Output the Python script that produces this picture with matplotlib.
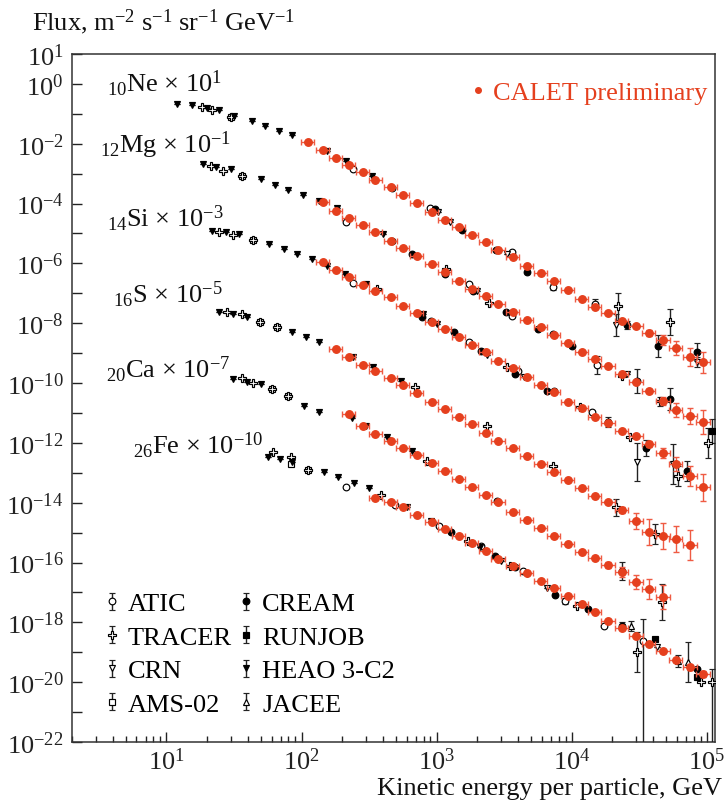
import numpy as np
import matplotlib
matplotlib.use('Agg')
import matplotlib.pyplot as plt
from matplotlib.container import ErrorbarContainer
from matplotlib.legend_handler import HandlerErrorbar
from matplotlib.lines import Line2D
from matplotlib.ticker import FixedLocator, FuncFormatter, LogLocator, NullFormatter

plt.rcParams['font.family'] = 'Liberation Serif'
plt.rcParams['mathtext.fontset'] = 'custom'
plt.rcParams['mathtext.rm'] = 'Liberation Serif'
plt.rcParams['mathtext.it'] = 'Liberation Serif:italic'
plt.rcParams['mathtext.bf'] = 'Liberation Serif:bold'

# ---- CALET (plotted flux already multiplied by the scale factor), log10 values
calet_energy = [111, 143, 179, 223, 283, 352, 456, 560, 711, 918,
                1146, 1455, 1816, 2307, 2850, 3656, 4645, 5888, 7362, 9333,
                11860, 14790, 18490, 23440, 29790, 37150, 47200, 58880, 74820, 93330]
half_bin = 0.05

ne_logf = [-1.94, -2.21, -2.48, -2.71, -2.95, -3.21, -3.45, -3.72, -3.98, -4.28,
           -4.55, -4.79, -5.05, -5.29, -5.56, -5.79, -6.09, -6.32, -6.59, -6.89,
           -7.19, -7.46, -7.66, -7.93, -8.10, -8.33, -8.57, -8.83, -9.13, -9.30]
mg_logf = [-3.95, -4.25, -4.49, -4.72, -4.95, -5.25, -5.49, -5.76, -6.02, -6.29,
           -6.59, -6.86, -7.09, -7.36, -7.63, -7.90, -8.13, -8.40, -8.67, -8.97,
           -9.20, -9.43, -9.70, -9.97, -10.27, -10.61, -10.91, -11.11, -11.31]
si_logf = [-5.96, -6.22, -6.46, -6.73, -6.93, -7.13, -7.43, -7.66, -7.96, -8.20,
           -8.47, -8.73, -8.97, -9.27, -9.50, -9.80, -10.07, -10.30, -10.64, -10.84,
           -11.14, -11.34, -11.61, -11.78, -12.04, -12.34, -12.71, -13.11, -13.48]
s_logf = [-8.87, -9.13, -9.40, -9.60, -9.84, -10.07, -10.34, -10.64, -10.87, -11.14,
          -11.37, -11.68, -11.94, -12.18, -12.44, -12.71, -12.98, -13.25, -13.52, -13.78,
          -13.98, -14.25, -14.62, -14.99, -15.12, -15.22, -15.42]
ca_logf = [-11.04, -11.44, -11.71, -11.94, -12.18, -12.41, -12.68, -12.95, -13.21, -13.48,
           -13.75, -13.98, -14.32, -14.59, -14.85, -15.12, -15.39, -15.66, -15.86, -16.09,
           -16.32, -16.66, -16.89, -17.16]
fe_logf = [-13.85, -13.98, -14.15, -14.42, -14.65, -14.89, -15.12, -15.35, -15.62, -15.89,
           -16.12, -16.36, -16.63, -16.86, -17.13, -17.39, -17.66, -17.96, -18.20, -18.47,
           -18.73, -18.97, -19.27, -19.50, -19.74]

# first energy bin used by each element, and vertical errors (decades) of the last points
calet_start = {'ne': 0, 'mg': 1, 'si': 1, 's': 2, 'ca': 3, 'fe': 5}
ne_tail = [0.05, 0.10, 0.17, 0.22, 0.30, 0.35]
mg_tail = [0.07, 0.13, 0.23, 0.27, 0.40]
si_tail = [0.07, 0.10, 0.17, 0.23, 0.33, 0.45]
s_tail = [0.10, 0.27, 0.43, 0.43, 0.43, 0.50]
ca_tail = [0.10, 0.17, 0.23, 0.33, 0.40]
fe_tail = [0.05, 0.07, 0.08, 0.10]

# ---- other experiments: log10 E, log10 flux, error in decades (or (low, high))
heao_logE = [1.08, 1.19, 1.30, 1.39, 1.50, 1.63, 1.73, 1.83, 1.93, 2.19, 2.33, 2.52,
             1.27, 1.37, 1.48, 1.70, 1.80, 1.90, 2.01, 2.13, 2.26, 2.60,
             1.34, 1.44, 1.54, 1.76, 1.87, 1.97, 2.08, 2.19, 2.32, 2.48, 2.90, 3.00,
             1.39, 1.49, 1.60, 1.93, 2.03, 2.13, 2.38, 2.53, 2.74,
             1.49, 1.60, 1.70, 2.02, 2.13, 2.37, 2.48, 2.63, 2.82,
             1.75, 1.84, 1.93, 2.17, 2.27, 2.39, 2.50, 2.78, 2.96, 3.32]
heao_logF = [-0.67, -0.71, -0.81, -0.87, -1.07, -1.24, -1.41, -1.58, -1.71, -2.24, -2.58, -3.08,
             -2.68, -2.78, -2.85, -3.18, -3.38, -3.55, -3.72, -3.92, -4.15, -5.02,
             -4.92, -4.95, -5.02, -5.36, -5.52, -5.69, -5.86, -6.09, -6.36, -6.69, -7.70, -8.03,
             -7.63, -7.70, -7.80, -8.30, -8.47, -8.63, -9.13, -9.47, -9.94,
             -9.87, -9.97, -10.04, -10.77, -10.97, -11.17, -11.44, -11.81, -12.28,
             -12.48, -12.55, -12.65, -12.98, -13.15, -13.35, -13.52, -14.15, -14.62, -15.49]
heao_err = [0] * len(heao_logE)

tracer_logE = [1.26, 1.34, 1.48, 4.34, 4.73,
               1.33, 1.42, 1.56, 3.07, 3.39, 4.37, 4.65, 5.01,
               1.39, 1.49, 1.64, 2.56, 3.52, 4.06, 4.43, 4.79,
               1.45, 1.56, 1.69, 1.82, 2.84, 3.37, 3.86, 4.33, 4.62,
               1.56, 1.64, 1.78, 1.90, 2.93, 4.67,
               1.79, 1.92, 2.05, 2.59, 3.23, 3.54, 4.04, 4.48, 4.96, 5.04]
tracer_logF = [-0.77, -0.87, -1.11, -7.43, -7.96,
               -2.75, -2.91, -3.08, -6.19, -7.33, -9.77, -10.61, -12.01,
               -4.95, -5.05, -5.22, -6.86, -9.47, -10.81, -11.81, -13.11,
               -7.63, -7.70, -7.96, -8.13, -10.14, -11.44, -12.78, -14.15, -15.05,
               -9.84, -10.00, -10.20, -10.44, -12.61, -17.33,
               -12.31, -12.48, -12.91, -13.75, -15.29, -16.12, -17.46, -19.00, -20.00, -20.00]
tracer_err = [0, 0, 0, 0.45, 0.42,
              0, 0, 0, 0, 0, 0, 0.15, 0.50,
              0, 0, 0, 0, 0, 0, 0, 0.33,
              0, 0, 0, 0, 0, 0, 0, 0.28, 0.33,
              0, 0, 0, 0, 0, 0.60,
              0, 0, 0, 0, 0, 0, 0, 0.67, 0, (4.0, 0.43)]

ams_logE = [1.48, 1.56, 1.64, 1.69, 1.82, 1.78, 1.90, 1.92, 2.05]
ams_logF = [-1.11, -3.08, -5.22, -7.96, -8.13, -10.20, -10.44, -12.71, -12.91]
ams_err = [0] * len(ams_logE)

atic_logE = [2.38, 2.67, 2.95, 3.56, 3.86, 4.17,
             2.33, 2.67, 3.24, 3.56, 3.86, 4.19,
             2.38, 2.96, 3.24, 3.60, 3.87, 4.15,
             2.33, 2.69, 3.02, 3.33, 3.64, 3.95, 4.24, 4.53]
atic_logF = [-2.85, -3.48, -4.15, -5.62, -6.79, -7.36,
             -4.62, -5.25, -6.69, -7.76, -8.37, -9.40,
             -6.66, -7.93, -8.63, -9.60, -10.27, -10.97,
             -13.48, -14.08, -14.79, -15.46, -16.29, -17.29, -18.13, -18.63]
atic_err = [0, 0, 0, 0, 0.10, 0.17,
            0, 0, 0, 0, 0, 0.30,
            0, 0, 0, 0, 0, 0,
            0, 0, 0, 0, 0, 0.10, 0, (4.0, 0.73)]

crn_logE = [3.01, 3.10, 3.52, 4.33, 4.93,
            3.30, 4.41,
            3.37, 3.65, 4.48, 4.75,
            3.48, 3.67, 3.82, 4.63]
crn_logF = [-4.28, -4.62, -5.69, -8.06, -9.30,
            -6.93, -9.70,
            -9.07, -9.80, -12.65, -12.71,
            -15.96, -16.39, -16.86, -18.83]
crn_err = [0, 0, 0, 0.37, 0.17,
           0, 0,
           0, 0, 0.64, 0.67,
           0, 0, 0, 0]

cream_logE = [2.99, 3.19, 3.44, 3.67, 4.41, 4.64, 4.93,
              2.82, 3.06, 3.27, 3.51, 3.75, 4.00, 4.48, 4.73,
              2.89, 3.13, 3.33, 3.58, 3.82, 4.27, 4.55, 4.85,
              3.45, 4.37,
              3.11, 3.43, 3.58, 3.88, 4.12, 4.37, 4.93]
cream_logF = [-4.18, -4.89, -5.56, -6.29, -8.06, -8.77, -8.97,
              -5.69, -6.36, -6.93, -7.63, -8.20, -8.77, -9.94, -10.54,
              -7.80, -8.30, -8.93, -9.70, -10.27, -11.31, -12.18, -12.95,
              -13.95, -16.29,
              -14.99, -15.79, -16.16, -17.09, -17.56, -18.13, -19.57]
cream_err = [0, 0, 0, 0, 0.13, 0.37, 0.30,
             0, 0, 0, 0, 0, 0, 0.40, 0.37,
             0, 0, 0, 0, 0, 0.17, 0.27, 0.33,
             0, 0.30,
             0, 0, 0, 0, 0, 0.13, 0]

runjob_logE = [5.04, 4.62, 4.93]
runjob_logF = [-11.61, -18.57, -19.83]
runjob_err = [0.40, 0, 0]

jacee_logE = [4.44, 4.79, 4.86]
jacee_logF = [-18.13, -19.30, -19.33]
jacee_err = [0.17, 0.20, 0.67]

species_labels = [r'$_{10}$Ne × 10$^{1}$', r'$_{12}$Mg × 10$^{-1}$', r'$_{14}$Si × 10$^{-3}$',
                  r'$_{16}$S × 10$^{-5}$', r'$_{20}$Ca × 10$^{-7}$', r'$_{26}$Fe × 10$^{-10}$']
label_px = [(107, 92), (100, 153), (107, 227), (113, 303), (106, 378), (133, 454)]
labelled_exps = [1, 0, -2, -4, -6, -8, -10, -12, -14, -16, -18, -20, -22]

RED = '#e5401e'
RED_BAR = '#ef5b43'
FS = 19

fig = plt.figure(figsize=(7.28, 8.04), dpi=100)
W, H = 728, 804
ax = fig.add_axes([72 / W, 61 / H, 643 / W, 688 / H])
ax.set_xscale('log')
ax.set_yscale('log')


def px(x, y):
    return x / W, 1 - y / H


def draw_exp(logE, logF, err, marker, filled, label, ms=4.8):
    e = 10 ** np.array(logE)
    f = 10 ** np.array(logF)
    lo = np.array([v[0] if isinstance(v, tuple) else v for v in err], dtype=float)
    hi = np.array([v[1] if isinstance(v, tuple) else v for v in err], dtype=float)
    yerr = [f * (1 - 10 ** -lo), f * (10 ** hi - 1)]
    return ax.errorbar(e, f, yerr=yerr, fmt=marker, ms=ms,
                       mfc='k' if filled else 'white', mec='k', mew=0.85,
                       ecolor='#222222', elinewidth=1.0, capsize=2, label=label,
                       zorder=3)


h_ams = draw_exp(ams_logE, ams_logF, ams_err, 's', False, 'AMS-02', ms=4.3)
h_atic = draw_exp(atic_logE, atic_logF, atic_err, 'o', False, 'ATIC')
h_tracer = draw_exp(tracer_logE, tracer_logF, tracer_err, 'P', False, 'TRACER', ms=5.2)
h_crn = draw_exp(crn_logE, crn_logF, crn_err, 'v', False, 'CRN')
h_cream = draw_exp(cream_logE, cream_logF, cream_err, 'o', True, 'CREAM')
h_runjob = draw_exp(runjob_logE, runjob_logF, runjob_err, 's', True, 'RUNJOB', ms=4.5)
h_heao = draw_exp(heao_logE, heao_logF, heao_err, 'v', True, 'HEAO 3-C2', ms=4.5)
h_jacee = draw_exp(jacee_logE, jacee_logF, jacee_err, '^', False, 'JACEE')

calet_sets = [('ne', ne_logf, ne_tail), ('mg', mg_logf, mg_tail), ('si', si_logf, si_tail),
              ('s', s_logf, s_tail), ('ca', ca_logf, ca_tail), ('fe', fe_logf, fe_tail)]
for name, logf, tail in calet_sets:
    i0 = calet_start[name]
    e = np.array(calet_energy[i0:i0 + len(logf)], dtype=float)
    f = 10 ** np.array(logf)
    err = np.zeros(len(f))
    err[len(f) - len(tail):] = tail
    xerr = [e * (1 - 10 ** -half_bin), e * (10 ** half_bin - 1)]
    yerr = [f * (1 - 10 ** -err), f * (10 ** err - 1)]
    ax.errorbar(e, f, xerr=xerr, yerr=yerr, fmt='o', ms=5.4, color=RED, mec=RED,
                ecolor=RED_BAR, elinewidth=1.0, capsize=2, zorder=4)

ax.set_xlim(2.0, 1.15e5)
ax.set_ylim(1e-22, 1e1)

ax.yaxis.set_major_locator(FixedLocator([10.0 ** k for k in range(-22, 2)]))
ax.yaxis.set_major_formatter(FuncFormatter(
    lambda v, pos: (r'$10^{%d}$' % round(np.log10(v))) if round(np.log10(v)) in labelled_exps else ''))
ax.yaxis.set_minor_locator(FixedLocator([]))
ax.xaxis.set_major_locator(LogLocator(base=10, numticks=10))
ax.xaxis.set_minor_locator(LogLocator(base=10, subs=np.arange(2, 10), numticks=20))
ax.xaxis.set_minor_formatter(NullFormatter())
ax.xaxis.set_major_formatter(FuncFormatter(lambda v, pos: r'$10^{%d}$' % round(np.log10(v))))

ax.tick_params(which='both', direction='in', colors='#222222', labelsize=FS)
ax.tick_params(which='major', length=7, width=1.0)
ax.tick_params(which='minor', length=4, width=1.0)
ax.tick_params(axis='y', pad=6)
ax.tick_params(axis='x', pad=4)
for sp in ax.spines.values():
    sp.set_linewidth(1.1)
    sp.set_color('#333333')

for text, (x, y) in zip(species_labels, label_px):
    fig.text(*px(x, y), text, ha='left', va='baseline', fontsize=FS, color='#111111')

fig.text(*px(32, 30), r'Flux, m$^{-2}$ s$^{-1}$ sr$^{-1}$ GeV$^{-1}$', ha='left',
         va='baseline', fontsize=FS, color='#111111')
fig.text(*px(722, 795), 'Kinetic energy per particle, GeV', ha='right',
         va='baseline', fontsize=FS, color='#111111')

leg = ax.legend(handles=[h_atic, h_tracer, h_crn, h_ams, h_cream, h_runjob, h_heao, h_jacee],
                ncol=2, loc='upper left', bbox_to_anchor=((104 - 72) / 643, (743 - 593) / 688),
                frameon=False, fontsize=FS, handlelength=0.6, handletextpad=0.3,
                labelspacing=0.38, columnspacing=0.25, borderpad=0, borderaxespad=0,
                handler_map={ErrorbarContainer: HandlerErrorbar(yerr_size=0.32)})
ax.add_artist(leg)

calet_handle = Line2D([], [], ls='none', marker='o', ms=4, color=RED)
ax.legend(handles=[calet_handle], labels=['CALET preliminary'], loc='upper right',
          bbox_to_anchor=((707 - 72) / 643, (743 - 82) / 688), frameon=False,
          fontsize=FS, handlelength=0.4, handletextpad=0.35, borderpad=0,
          borderaxespad=0, labelcolor=RED)

fig.savefig('out.png', dpi=100)
